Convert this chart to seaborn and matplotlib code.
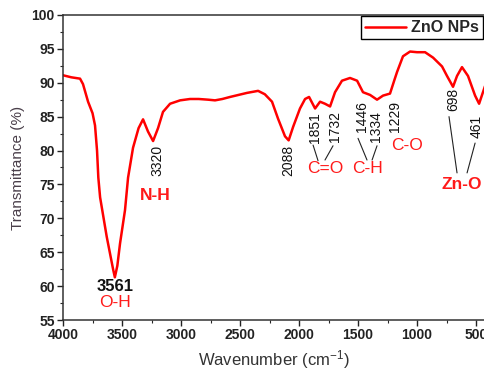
import numpy as np
import pandas as pd
import matplotlib
matplotlib.use("Agg")
import matplotlib.pyplot as plt
from matplotlib.ticker import MultipleLocator
import seaborn as sns

# FTIR spectrum of ZnO NPs
wavenumber = [4000, 3930, 3856, 3831, 3788, 3750, 3729, 3712, 3701, 3686,
              3630, 3576, 3561, 3540, 3517, 3475, 3449, 3407, 3360, 3322,
              3280, 3237, 3195, 3153, 3093, 3008, 2924, 2850, 2771, 2712,
              2650, 2585, 2441, 2347, 2290, 2229, 2178, 2119, 2088, 2050,
              1992, 1949, 1915, 1864, 1822, 1780, 1737, 1695, 1636, 1568,
              1508, 1458, 1398, 1339, 1288, 1229, 1190, 1169, 1119, 1059,
              1000, 932, 864, 788, 746, 695, 661, 619, 568, 508, 474, 424]
transmittance = [91.1, 90.8, 90.6, 89.8, 87.2, 85.5, 83.7, 80.0, 76.0, 73.1,
                 67.3, 62.5, 61.3, 63.0, 66.3, 71.2, 76.0, 80.4, 83.3, 84.6,
                 82.8, 81.4, 83.3, 85.7, 86.9, 87.4, 87.6, 87.6, 87.5, 87.4,
                 87.6, 87.9, 88.5, 88.8, 88.3, 87.2, 84.7, 82.1, 81.5, 83.5,
                 86.2, 87.6, 87.9, 86.2, 87.2, 86.9, 86.5, 88.6, 90.3, 90.7,
                 90.3, 88.6, 88.2, 87.5, 88.1, 88.4, 90.5, 91.6, 93.9, 94.6,
                 94.5, 94.5, 93.7, 92.4, 91.0, 89.4, 91.0, 92.3, 91.0, 88.1,
                 86.9, 89.5]

# peak labels: (text, wavenumber, transmittance)
peak_labels = [("3320", 3203, 78.6), ("2088", 2093, 78.6),
               ("1851", 1864, 83.4), ("1732", 1695, 83.6),
               ("1446", 1466, 85.0), ("1334", 1347, 83.6),
               ("1229", 1186, 85.0), ("698", 695, 87.5), ("461", 491, 83.6)]
# group labels: (text, wavenumber, transmittance, bold)
group_labels = [("N-H", 3220, 73.4, True), ("O-H", 3559, 57.6, False),
                ("C=O", 1780, 77.3, False), ("C-H", 1424, 77.3, False),
                ("C-O", 1085, 80.8, False), ("Zn-O", 619, 75.0, True)]
# leader lines: (x0, y0, x1, y1)
leaders = [(1881, 80.8, 1839, 78.5), (1712, 80.7, 1780, 78.6),
           (1500, 81.8, 1424, 78.6), (1339, 80.7, 1381, 78.6),
           (729, 85.0, 661, 76.7), (508, 81.1, 576, 76.7)]

df = pd.DataFrame({"wn": wavenumber, "T": transmittance})

sns.set_style("ticks")
plt.rcParams["font.family"] = ["Liberation Sans", "DejaVu Sans"]
plt.rcParams["mathtext.default"] = "regular"

fig = plt.figure(figsize=(4.85, 3.73), dpi=100)
ax = fig.add_axes([0.130, 0.142, 0.870, 0.818])

sns.lineplot(data=df, x="wn", y="T", ax=ax, color="#ff0000", linewidth=1.8,
             sort=False, label="ZnO NPs")

ax.set_xlim(4000, 424)
ax.set_ylim(55, 100)
ax.xaxis.set_major_locator(MultipleLocator(500))
ax.xaxis.set_minor_locator(MultipleLocator(250))
ax.yaxis.set_major_locator(MultipleLocator(5))
ax.yaxis.set_minor_locator(MultipleLocator(2.5))
ax.tick_params(which="major", direction="out", length=4, width=1.0,
               labelsize=10, pad=2, colors="#222222")
ax.tick_params(which="minor", direction="out", length=2, width=0.8)
for lab in ax.get_xticklabels() + ax.get_yticklabels():
    lab.set_fontweight("bold")
for s in ["left", "bottom", "top"]:
    ax.spines[s].set_linewidth(1.1)
    ax.spines[s].set_color("#333333")
ax.spines["right"].set_visible(False)

ax.set_xlabel(r"Wavenumber (cm$^{-1}$)", fontsize=12, color="#333333", labelpad=4)
ax.set_ylabel("Transmittance (%)", fontsize=11, color="#4a3f4a", labelpad=5)

for txt, x, y in peak_labels:
    ax.text(x, y, txt, rotation=90, ha="center", va="center",
            fontsize=10, color="#111111")
ax.text(3559, 60.0, "3561", ha="center", va="center", fontsize=12,
        fontweight="bold", color="#111111")
for txt, x, y, bold in group_labels:
    ax.text(x, y, txt, ha="center", va="center", fontsize=12.5,
            fontweight="bold" if bold else "normal", color="#ff1a1a")
for x0, y0, x1, y1 in leaders:
    ax.plot([x0, x1], [y0, y1], color="#222222", linewidth=0.8)

leg = ax.legend(loc="upper right", bbox_to_anchor=(0.995, 0.995),
                borderaxespad=0, fancybox=False, framealpha=1,
                edgecolor="black", handlelength=2.6, handletextpad=0.3,
                borderpad=0.25, prop={"weight": "bold", "size": 11.5})
leg.get_frame().set_linewidth(1.0)

fig.savefig("out.png", dpi=100)
